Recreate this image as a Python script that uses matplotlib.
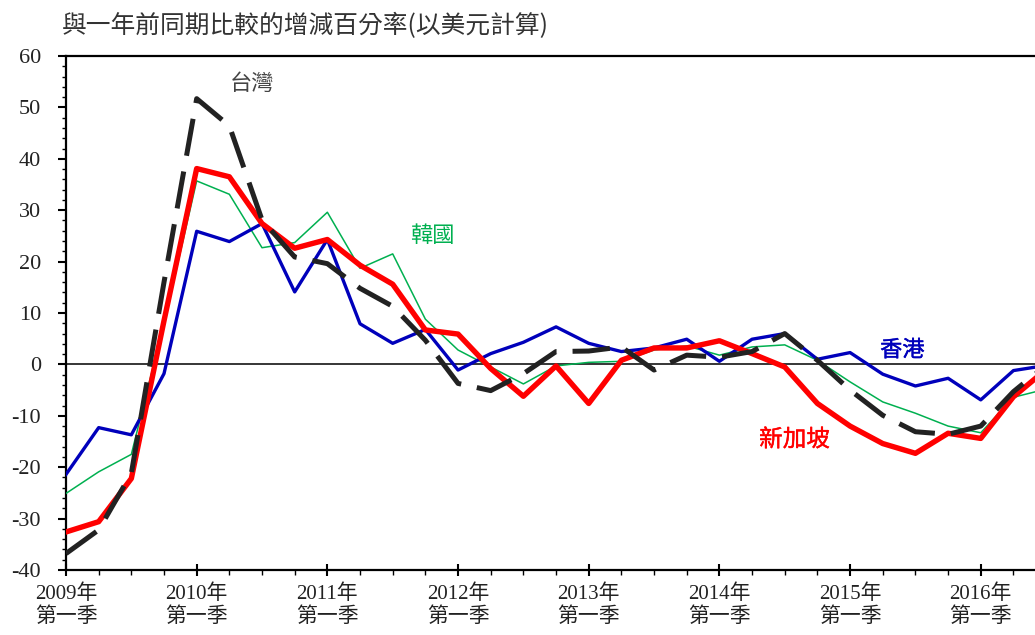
import matplotlib
matplotlib.use("Agg")
import matplotlib.pyplot as plt
import matplotlib.patheffects as pe
from matplotlib.ticker import MultipleLocator, FixedLocator
import numpy as np

plt.rcParams["axes.unicode_minus"] = False

# ---- data (quarterly, 2009 Q1 .. 2016 Q3) ----
years = [2009, 2010, 2011, 2012, 2013, 2014, 2015, 2016]
hongkong = [-21.4, -12.3, -13.7, -1.8, 25.9, 23.9, 27.4, 14.1, 24.3, 7.9, 4.1, 6.8, -1.1, 2.1,
            4.3, 7.3, 4.1, 2.5, 3.2, 4.9, 0.6, 4.9, 6.0, 1.0, 2.3, -1.9, -4.2, -2.7, -6.9, -1.2, -0.2]
singapore = [-32.6, -30.6, -22.2, 8.5, 38.1, 36.5, 27.4, 22.6, 24.3, 19.3, 15.6, 6.7, 5.9, -0.8,
             -6.2, -0.3, -7.6, 0.8, 3.2, 3.2, 4.6, 2.1, -0.5, -7.6, -12.0, -15.4, -17.3, -13.4, -14.4, -6.3, -1.0]
korea = [-25.1, -20.9, -17.5, 8.0, 35.7, 33.1, 22.7, 23.7, 29.6, 18.7, 21.5, 8.8, 2.8, -0.5,
         -3.8, -0.3, 0.4, 0.6, 2.8, 3.6, 1.8, 3.4, 3.8, 0.8, -3.4, -7.3, -9.5, -12.0, -13.3, -6.4, -4.8]
taiwan = [-36.8, -32.2, -21.2, 16.0, 51.7, 46.4, 28.1, 20.9, 19.6, 14.8, 11.3, 4.7, -3.7, -5.1,
          -1.8, 2.5, 2.6, 3.4, -1.1, 1.8, 1.4, 2.5, 6.0, 0.8, -5.0, -9.9, -13.1, -13.6, -12.0, -5.3, -0.1]
title = "與一年前同期比較的增減百分率(以美元計算)"
xlabels = [f"{y}年\n第一季" for y in years]

CJK = "Noto Sans CJK TC"
MIX = ["Liberation Serif", CJK]

fig = plt.figure(figsize=(10.35, 6.35), dpi=100)
W, H = 1035, 635
x0, y0, yt = 66, 570, 56
qpx = 32.67
nq = 30
ax = fig.add_axes([x0 / W, (H - y0) / H, nq * qpx / W, (y0 - yt) / H])

x = np.arange(len(hongkong))
ax.plot(x, korea, color="#00B050", lw=1.1, zorder=3)
ax.plot(x, hongkong, color="#0000BB", lw=2.4, zorder=4)
ax.plot(x, singapore, color="#FF0000", lw=3.9, zorder=5)
ax.plot(x, taiwan, color="#222222", lw=3.6, dashes=(7.5, 3.2), zorder=6)
ax.axhline(0, color="black", lw=1.1, zorder=2)

ax.set_xlim(0, nq)
ax.set_ylim(-40, 60)

ax.yaxis.set_major_locator(MultipleLocator(10))
ax.yaxis.set_minor_locator(MultipleLocator(2))
ax.xaxis.set_major_locator(FixedLocator([4 * i for i in range(len(years))]))
ax.xaxis.set_minor_locator(MultipleLocator(1))
ax.set_xticklabels(xlabels, family=MIX, fontsize=15, color="#222222", linespacing=1.2)
for lab in ax.get_yticklabels():
    lab.set_family("Liberation Serif")
    lab.set_fontsize(16)
    lab.set_color("#222222")

ax.tick_params(axis="y", which="major", direction="out", length=6, width=1.5, pad=12)
ax.tick_params(axis="y", which="minor", direction="out", length=3, width=1.0)
ax.tick_params(axis="x", which="major", direction="inout", length=9, width=1.5, pad=6)
ax.tick_params(axis="x", which="minor", direction="out", length=3.5, width=1.0)

for s in ["left", "bottom", "top", "right"]:
    ax.spines[s].set_linewidth(1.6)

ax.text(5.69, 54.6, "台灣", family=CJK, fontsize=16, color="#444444", ha="center", va="center")
ax.text(11.2, 25.1, "韓國", family=CJK, fontsize=16, color="#00B050", ha="center", va="center")
ax.text(25.6, 2.8, "香港", family=CJK, fontsize=16, color="#0000BB", ha="center", va="center",
        path_effects=[pe.withStroke(linewidth=0.3, foreground="#0000BB")])
ax.text(22.3, -14.7, "新加坡", family=CJK, fontsize=17, color="#FF0000", ha="center", va="center",
        path_effects=[pe.withStroke(linewidth=0.3, foreground="#FF0000")])

fig.text(62 / W, 1 - 26 / H, title, family=[CJK, "Liberation Serif"], fontsize=17.8,
         color="#333333", ha="left", va="center")

fig.savefig("out.png", dpi=100)
